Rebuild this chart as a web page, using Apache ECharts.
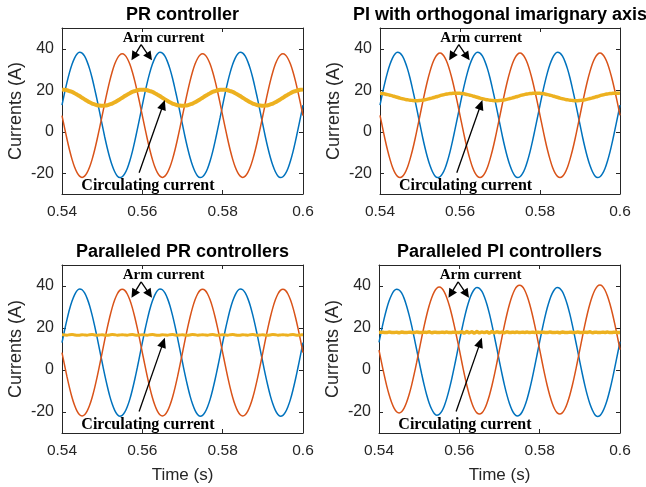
<!DOCTYPE html>
<html>
<head>
<meta charset="utf-8">
<script src="https://cdn.jsdelivr.net/npm/echarts@6/dist/echarts.min.js"></script>
<style>html,body{margin:0;padding:0;background:#fff}#main{width:646px;height:487px}</style>
</head>
<body>
<div id="main"></div>
<script>
// ---- data ----
const titles = ['PR controller', 'PI with orthogonal imarignary axis', 'Paralleled PR controllers', 'Paralleled PI controllers'];
const xTicks = [0.54, 0.56, 0.58, 0.6];
const yTicks = [-20, 0, 20, 40];
const time = [
  0.54, 0.540625, 0.54125, 0.541875, 0.5425, 0.543125, 0.54375, 0.544375, 0.545, 0.545625, 0.54625, 0.546875, 0.5475, 0.548125, 0.54875, 0.549375,
  0.55, 0.550625, 0.55125, 0.551875, 0.5525, 0.553125, 0.55375, 0.554375, 0.555, 0.555625, 0.55625, 0.556875, 0.5575, 0.558125, 0.55875, 0.559375,
  0.56, 0.560625, 0.56125, 0.561875, 0.5625, 0.563125, 0.56375, 0.564375, 0.565, 0.565625, 0.56625, 0.566875, 0.5675, 0.568125, 0.56875, 0.569375,
  0.57, 0.570625, 0.57125, 0.571875, 0.5725, 0.573125, 0.57375, 0.574375, 0.575, 0.575625, 0.57625, 0.576875, 0.5775, 0.578125, 0.57875, 0.579375,
  0.58, 0.580625, 0.58125, 0.581875, 0.5825, 0.583125, 0.58375, 0.584375, 0.585, 0.585625, 0.58625, 0.586875, 0.5875, 0.588125, 0.58875, 0.589375,
  0.59, 0.590625, 0.59125, 0.591875, 0.5925, 0.593125, 0.59375, 0.594375, 0.595, 0.595625, 0.59625, 0.596875, 0.5975, 0.598125, 0.59875, 0.599375,
  0.6];

// Panel 1: PR controller
const armUpperPR = [
  12.8, 18.6, 23.9, 28.6, 32.5, 35.5, 37.5, 38.3, 37.9, 36.4, 33.8, 30.3, 25.9, 20.7, 15.2, 9.3, 3.4, -2.4, -7.7, -12.4, -16.3, -19.3, -21.3, -22.1, -21.7, -20.2, -17.7, -14.1, -9.7, -4.5, 1.1, 6.9,
  12.8, 18.6, 23.9, 28.6, 32.5, 35.5, 37.5, 38.3, 37.9, 36.4, 33.8, 30.3, 25.9, 20.7, 15.2, 9.3, 3.4, -2.4, -7.7, -12.4, -16.3, -19.3, -21.3, -22.1, -21.7, -20.2, -17.7, -14.1, -9.7, -4.5, 1.1, 6.9,
  12.8, 18.6, 23.9, 28.6, 32.5, 35.5, 37.5, 38.3, 37.9, 36.4, 33.8, 30.3, 25.9, 20.7, 15.2, 9.3, 3.4, -2.4, -7.7, -12.4, -16.3, -19.3, -21.3, -22.1, -21.7, -20.2, -17.7, -14.1, -9.7, -4.5, 1.1, 6.9,
  12.8];
const armLowerPR = [
  7.8, 2.0, -3.6, -8.8, -13.3, -17.0, -19.7, -21.4, -22.0, -21.4, -19.7, -17.0, -13.3, -8.8, -3.6, 2.0, 7.8, 13.6, 19.2, 24.4, 28.9, 32.6, 35.3, 37.0, 37.6, 37.0, 35.3, 32.6, 28.9, 24.4, 19.2, 13.6,
  7.8, 2.0, -3.6, -8.8, -13.3, -17.0, -19.7, -21.4, -22.0, -21.4, -19.7, -17.0, -13.3, -8.8, -3.6, 2.0, 7.8, 13.6, 19.2, 24.4, 28.9, 32.6, 35.3, 37.0, 37.6, 37.0, 35.3, 32.6, 28.9, 24.4, 19.2, 13.6,
  7.8, 2.0, -3.6, -8.8, -13.3, -17.0, -19.7, -21.4, -22.0, -21.4, -19.7, -17.0, -13.3, -8.8, -3.6, 2.0, 7.8, 13.6, 19.2, 24.4, 28.9, 32.6, 35.3, 37.0, 37.6, 37.0, 35.3, 32.6, 28.9, 24.4, 19.2, 13.6,
  7.8];
const circPR = [
  20.3, 20.2, 20.0, 19.6, 19.2, 18.6, 17.9, 17.2, 16.4, 15.6, 14.9, 14.2, 13.6, 13.2, 12.8, 12.6, 12.5, 12.6, 12.8, 13.2, 13.6, 14.2, 14.9, 15.6, 16.4, 17.2, 17.9, 18.6, 19.2, 19.6, 20.0, 20.2,
  20.3, 20.2, 20.0, 19.6, 19.2, 18.6, 17.9, 17.2, 16.4, 15.6, 14.9, 14.2, 13.6, 13.2, 12.8, 12.6, 12.5, 12.6, 12.8, 13.2, 13.6, 14.2, 14.9, 15.6, 16.4, 17.2, 17.9, 18.6, 19.2, 19.6, 20.0, 20.2,
  20.3, 20.2, 20.0, 19.6, 19.2, 18.6, 17.9, 17.2, 16.4, 15.6, 14.9, 14.2, 13.6, 13.2, 12.8, 12.6, 12.5, 12.6, 12.8, 13.2, 13.6, 14.2, 14.9, 15.6, 16.4, 17.2, 17.9, 18.6, 19.2, 19.6, 20.0, 20.2,
  20.3];

// Panel 2: PI with orthogonal imaginary axis
const armUpperPI = [
  12.8, 18.6, 23.9, 28.6, 32.5, 35.5, 37.5, 38.3, 37.9, 36.4, 33.8, 30.3, 25.9, 20.7, 15.2, 9.3, 3.4, -2.4, -7.7, -12.4, -16.3, -19.3, -21.3, -22.1, -21.7, -20.2, -17.7, -14.1, -9.7, -4.5, 1.1, 6.9,
  12.8, 18.6, 23.9, 28.6, 32.5, 35.5, 37.5, 38.3, 37.9, 36.4, 33.8, 30.3, 25.9, 20.7, 15.2, 9.3, 3.4, -2.4, -7.7, -12.4, -16.3, -19.3, -21.3, -22.1, -21.7, -20.2, -17.7, -14.1, -9.7, -4.5, 1.1, 6.9,
  12.8, 18.6, 23.9, 28.6, 32.5, 35.5, 37.5, 38.3, 37.9, 36.4, 33.8, 30.3, 25.9, 20.7, 15.2, 9.3, 3.4, -2.4, -7.7, -12.4, -16.3, -19.3, -21.3, -22.1, -21.7, -20.2, -17.7, -14.1, -9.7, -4.5, 1.1, 6.9,
  12.8];
const armLowerPI = [
  7.9, 2.1, -3.6, -8.8, -13.3, -17.1, -19.8, -21.5, -22.1, -21.5, -19.8, -17.1, -13.3, -8.8, -3.6, 2.1, 7.9, 13.8, 19.4, 24.6, 29.1, 32.9, 35.6, 37.3, 37.9, 37.3, 35.6, 32.9, 29.1, 24.6, 19.4, 13.8,
  7.9, 2.1, -3.6, -8.8, -13.3, -17.1, -19.8, -21.5, -22.1, -21.5, -19.8, -17.1, -13.3, -8.8, -3.6, 2.1, 7.9, 13.8, 19.4, 24.6, 29.1, 32.9, 35.6, 37.3, 37.9, 37.3, 35.6, 32.9, 29.1, 24.6, 19.4, 13.8,
  7.9, 2.1, -3.6, -8.8, -13.3, -17.1, -19.8, -21.5, -22.1, -21.5, -19.8, -17.1, -13.3, -8.8, -3.6, 2.1, 7.9, 13.8, 19.4, 24.6, 29.1, 32.9, 35.6, 37.3, 37.9, 37.3, 35.6, 32.9, 29.1, 24.6, 19.4, 13.8,
  7.9];
const circPI = [
  18.5, 18.4, 18.2, 17.9, 17.6, 17.3, 16.9, 16.6, 16.2, 15.9, 15.6, 15.4, 15.2, 15.1, 15.0, 15.0, 15.1, 15.2, 15.4, 15.7, 16.0, 16.3, 16.7, 17.0, 17.4, 17.7, 18.0, 18.2, 18.4, 18.5, 18.6, 18.6,
  18.5, 18.4, 18.2, 17.9, 17.6, 17.3, 16.9, 16.6, 16.2, 15.9, 15.6, 15.4, 15.2, 15.1, 15.0, 15.0, 15.1, 15.2, 15.4, 15.7, 16.0, 16.3, 16.7, 17.0, 17.4, 17.7, 18.0, 18.2, 18.4, 18.5, 18.6, 18.6,
  18.5, 18.4, 18.2, 17.9, 17.6, 17.3, 16.9, 16.6, 16.2, 15.9, 15.6, 15.4, 15.2, 15.1, 15.0, 15.0, 15.1, 15.2, 15.4, 15.7, 16.0, 16.3, 16.7, 17.0, 17.4, 17.7, 18.0, 18.2, 18.4, 18.5, 18.6, 18.6,
  18.5];

// Panel 3: Paralleled PR controllers
const armUpperPPR = [
  13.0, 18.8, 24.1, 28.9, 32.8, 35.8, 37.8, 38.6, 38.2, 36.7, 34.1, 30.6, 26.1, 21.0, 15.4, 9.5, 3.6, -2.2, -7.5, -12.3, -16.2, -19.2, -21.2, -22.0, -21.6, -20.1, -17.5, -14.0, -9.5, -4.4, 1.2, 7.1,
  13.0, 18.8, 24.1, 28.9, 32.8, 35.8, 37.8, 38.6, 38.2, 36.7, 34.1, 30.6, 26.1, 21.0, 15.4, 9.5, 3.6, -2.2, -7.5, -12.3, -16.2, -19.2, -21.2, -22.0, -21.6, -20.1, -17.5, -14.0, -9.5, -4.4, 1.2, 7.1,
  13.0, 18.8, 24.1, 28.9, 32.8, 35.8, 37.8, 38.6, 38.2, 36.7, 34.1, 30.6, 26.1, 21.0, 15.4, 9.5, 3.6, -2.2, -7.5, -12.3, -16.2, -19.2, -21.2, -22.0, -21.6, -20.1, -17.5, -14.0, -9.5, -4.4, 1.2, 7.1,
  13.0];
const armLowerPPR = [
  8.3, 2.4, -3.3, -8.5, -13.1, -16.8, -19.6, -21.3, -21.9, -21.3, -19.6, -16.8, -13.1, -8.5, -3.3, 2.4, 8.3, 14.2, 19.9, 25.1, 29.7, 33.4, 36.2, 37.9, 38.5, 37.9, 36.2, 33.4, 29.7, 25.1, 19.9, 14.2,
  8.3, 2.4, -3.3, -8.5, -13.1, -16.8, -19.6, -21.3, -21.9, -21.3, -19.6, -16.8, -13.1, -8.5, -3.3, 2.4, 8.3, 14.2, 19.9, 25.1, 29.7, 33.4, 36.2, 37.9, 38.5, 37.9, 36.2, 33.4, 29.7, 25.1, 19.9, 14.2,
  8.3, 2.4, -3.3, -8.5, -13.1, -16.8, -19.6, -21.3, -21.9, -21.3, -19.6, -16.8, -13.1, -8.5, -3.3, 2.4, 8.3, 14.2, 19.9, 25.1, 29.7, 33.4, 36.2, 37.9, 38.5, 37.9, 36.2, 33.4, 29.7, 25.1, 19.9, 14.2,
  8.3];
const circPPR = [
  16.8, 16.7, 16.6, 16.8, 16.9, 16.7, 16.5, 16.6, 16.8, 16.7, 16.6, 16.8, 16.9, 16.7, 16.6, 16.7, 16.8, 16.6, 16.5, 16.7, 16.9, 16.8, 16.6, 16.7, 16.8, 16.7, 16.6, 16.8, 16.9, 16.7, 16.6, 16.7,
  16.8, 16.7, 16.6, 16.8, 16.9, 16.7, 16.5, 16.6, 16.8, 16.7, 16.6, 16.8, 16.9, 16.7, 16.6, 16.7, 16.8, 16.6, 16.5, 16.7, 16.9, 16.8, 16.6, 16.7, 16.8, 16.7, 16.6, 16.8, 16.9, 16.7, 16.6, 16.7,
  16.8, 16.7, 16.6, 16.8, 16.9, 16.7, 16.5, 16.6, 16.8, 16.7, 16.6, 16.8, 16.9, 16.7, 16.6, 16.7, 16.8, 16.6, 16.5, 16.7, 16.9, 16.8, 16.6, 16.7, 16.8, 16.7, 16.6, 16.8, 16.9, 16.7, 16.6, 16.7,
  16.8];

// Panel 4: Paralleled PI controllers
const armUpperPPI = [
  13.2, 18.9, 24.2, 28.9, 32.8, 35.7, 37.7, 38.5, 38.1, 36.7, 34.1, 30.5, 26.1, 21.1, 15.5, 9.7, 3.8, -1.9, -7.2, -11.9, -15.8, -18.7, -20.7, -21.5, -21.1, -19.7, -17.1, -13.5, -9.1, -4.1, 1.5, 7.3,
  13.5, 19.3, 24.7, 29.5, 33.5, 36.5, 38.5, 39.3, 38.9, 37.4, 34.8, 31.2, 26.7, 21.5, 15.8, 9.9, 3.9, -1.9, -7.3, -12.1, -16.1, -19.1, -21.1, -21.9, -21.5, -20.0, -17.4, -13.8, -9.3, -4.1, 1.6, 7.5,
  13.5, 19.3, 24.7, 29.5, 33.5, 36.5, 38.5, 39.3, 38.9, 37.4, 34.8, 31.2, 26.7, 21.5, 15.8, 9.9, 3.9, -1.9, -7.3, -12.1, -16.1, -19.1, -21.3, -22.1, -21.7, -20.1, -17.4, -13.8, -9.3, -4.1, 1.6, 7.5,
  13.5];
const armLowerPPI = [
  9.5, 3.6, -2.0, -7.2, -11.7, -15.4, -18.2, -19.9, -20.5, -19.9, -18.2, -15.4, -11.7, -7.2, -2.0, 3.6, 9.5, 15.4, 21.0, 26.2, 30.7, 34.4, 37.2, 38.9, 39.5, 38.9, 37.2, 34.4, 30.7, 26.2, 21.0, 15.4,
  9.7, 3.7, -2.1, -7.4, -12.0, -15.8, -18.7, -20.4, -21.0, -20.4, -18.7, -15.8, -12.0, -7.4, -2.1, 3.7, 9.7, 15.7, 21.5, 26.8, 31.4, 35.2, 38.1, 39.8, 40.3, 39.8, 38.1, 35.2, 31.4, 26.8, 21.5, 15.7,
  9.7, 3.7, -2.1, -7.4, -12.0, -15.8, -18.7, -20.4, -21.0, -20.4, -18.7, -15.8, -12.0, -7.4, -2.1, 3.7, 9.7, 15.7, 21.5, 26.8, 31.4, 35.2, 38.1, 39.9, 40.5, 39.9, 38.1, 35.2, 31.4, 26.8, 21.5, 15.7,
  9.7];
const circPPI = [
  17.9, 18.0, 17.9, 17.8, 18.1, 17.9, 17.8, 18.0, 17.7, 18.1, 17.9, 17.8, 18.0, 17.9, 17.8, 18.1, 17.9, 17.8, 18.0, 17.9, 18.2, 17.7, 18.0, 17.9, 17.8, 18.0, 17.9, 18.1, 17.8, 17.9, 18.0, 17.9,
  17.8, 18.2, 17.6, 18.3, 17.7, 18.2, 17.6, 18.3, 17.7, 18.1, 17.8, 18.2, 17.6, 18.3, 17.7, 18.2, 17.8, 18.1, 17.7, 18.2, 17.8, 18.0, 17.9, 18.1, 17.8, 18.0, 17.9, 18.1, 17.8, 18.0, 17.9, 18.0,
  17.9, 18.0, 17.9, 17.8, 18.1, 17.9, 17.8, 18.0, 17.7, 18.1, 17.9, 17.8, 18.0, 17.9, 17.8, 18.1, 17.9, 17.8, 18.0, 17.9, 18.2, 17.7, 18.0, 17.9, 17.8, 18.0, 17.9, 18.1, 17.8, 17.9, 18.0, 17.9,
  17.9];

// annotation anchors, in data units [time, current]
const armLabelAt = [0.5653, 45.0];
const armArrowFrom = [0.5597, 42.0];
const armArrowTo = [[0.5573, 34.4], [0.5624, 34.4]];
const circLabelAt = [0.5614, -25.9];
const circArrowFrom = [0.5592, -19.8];
const circArrowTo = [0.5656, 15.3];

const panels = [
  [armUpperPR, armLowerPR, circPR],
  [armUpperPI, armLowerPI, circPI],
  [armUpperPPR, armLowerPPR, circPPR],
  [armUpperPPI, armLowerPPI, circPPI]
];
const circWidth = [4, 3.5, 3, 3.5];

// ---- layout / style ----
const grids = [
  {left: 62, top: 28, width: 241, height: 166},
  {left: 380, top: 28, width: 240, height: 166},
  {left: 62, top: 265, width: 241, height: 168},
  {left: 379, top: 265, width: 241, height: 168}
];
const colors = ['#0072BD', '#D95319', '#EDB120'];
const axisColor = '#262626';
const sans = 'Liberation Sans, Arial, Helvetica, sans-serif';
const serif = 'Liberation Serif, Times New Roman, serif';

const xAxes = [], yAxes = [], series = [];
grids.forEach((g, i) => {
  const bottomRow = i >= 2;
  xAxes.push({
    type: 'value', gridIndex: i, position: 'bottom', min: 0.54, max: 0.6,
    axisLine: {show: true, onZero: false, lineStyle: {color: axisColor, width: 1}},
    axisTick: {show: true, inside: true, length: 4, customValues: xTicks, lineStyle: {color: axisColor}},
    axisLabel: {show: true, customValues: xTicks, margin: 10, fontSize: 15.5, color: axisColor, fontFamily: sans},
    splitLine: {show: false},
    name: bottomRow ? 'Time (s)' : '', nameLocation: 'middle', nameGap: 34,
    nameTextStyle: {fontSize: 17, color: axisColor, fontFamily: sans}
  });
  xAxes.push({
    type: 'value', gridIndex: i, position: 'top', min: 0.54, max: 0.6,
    axisLine: {show: true, onZero: false, lineStyle: {color: axisColor, width: 1}},
    axisTick: {show: true, inside: true, length: 4, customValues: xTicks, lineStyle: {color: axisColor}},
    axisLabel: {show: false}, splitLine: {show: false}
  });
  yAxes.push({
    type: 'value', gridIndex: i, position: 'left', min: -30, max: 50,
    axisLine: {show: true, onZero: false, lineStyle: {color: axisColor, width: 1}},
    axisTick: {show: true, inside: true, length: 4, customValues: yTicks, lineStyle: {color: axisColor}},
    axisLabel: {show: true, customValues: yTicks, margin: 8, fontSize: 16, color: axisColor, fontFamily: sans},
    splitLine: {show: false},
    name: 'Currents (A)', nameLocation: 'middle', nameGap: 37,
    nameTextStyle: {fontSize: 18, color: axisColor, fontFamily: sans}
  });
  yAxes.push({
    type: 'value', gridIndex: i, position: 'right', min: -30, max: 50,
    axisLine: {show: true, onZero: false, lineStyle: {color: axisColor, width: 1}},
    axisTick: {show: true, inside: true, length: 4, customValues: yTicks, lineStyle: {color: axisColor}},
    axisLabel: {show: false}, splitLine: {show: false}
  });
  panels[i].forEach((vals, j) => {
    series.push({
      type: 'line', xAxisIndex: 2 * i, yAxisIndex: 2 * i,
      data: time.map((t, k) => [t, vals[k]]),
      showSymbol: false, smooth: j === 2 ? 0.2 : 0.3, clip: true,
      lineStyle: {color: colors[j], width: j === 2 ? circWidth[i] : 1.5},
      itemStyle: {color: colors[j]}, z: 2 + j
    });
  });
});

const chart = echarts.init(document.getElementById('main'), null, {renderer: 'canvas'});
chart.setOption({
  animation: false,
  backgroundColor: '#ffffff',
  grid: grids.map(g => Object.assign({containLabel: false, outerBoundsMode: 'none'}, g)),
  xAxis: xAxes, yAxis: yAxes, series: series
});

// ---- annotations ----
function arrow(p0, p1, len, half) {
  const dx = p1[0] - p0[0], dy = p1[1] - p0[1];
  const L = Math.hypot(dx, dy), ux = dx / L, uy = dy / L;
  const bx = p1[0] - ux * len, by = p1[1] - uy * len;
  return [
    {type: 'line', z: 100, shape: {x1: p0[0], y1: p0[1], x2: bx + ux * 1, y2: by + uy * 1}, style: {stroke: '#000', lineWidth: 1.3}},
    {type: 'polygon', z: 100, shape: {points: [[p1[0], p1[1]], [bx - uy * half, by + ux * half], [bx + uy * half, by - ux * half]]}, style: {fill: '#000'}}
  ];
}
const els = [];
grids.forEach((g, i) => {
  const px = p => chart.convertToPixel({xAxisIndex: 2 * i, yAxisIndex: 2 * i}, p);
  els.push({type: 'text', z: 100, x: g.left + g.width / 2, y: g.top - 13,
    style: {text: titles[i], fill: '#000', font: 'bold 18px ' + sans, textAlign: 'center', textVerticalAlign: 'middle'}});
  const a = px(armLabelAt);
  els.push({type: 'text', z: 100, x: a[0], y: a[1],
    style: {text: 'Arm current', fill: '#000', font: 'bold 15px ' + serif, textAlign: 'center', textVerticalAlign: 'middle'}});
  const af = px(armArrowFrom);
  armArrowTo.forEach(t => els.push(...arrow(af, px(t), 9, 4.5)));
  const c = px(circLabelAt);
  els.push({type: 'text', z: 100, x: c[0], y: c[1],
    style: {text: 'Circulating current', fill: '#000', font: 'bold 16px ' + serif, textAlign: 'center', textVerticalAlign: 'middle'}});
  els.push(...arrow(px(circArrowFrom), px(circArrowTo), 10, 4.5));
});
chart.setOption({graphic: {elements: els}});
</script>
</body>
</html>
